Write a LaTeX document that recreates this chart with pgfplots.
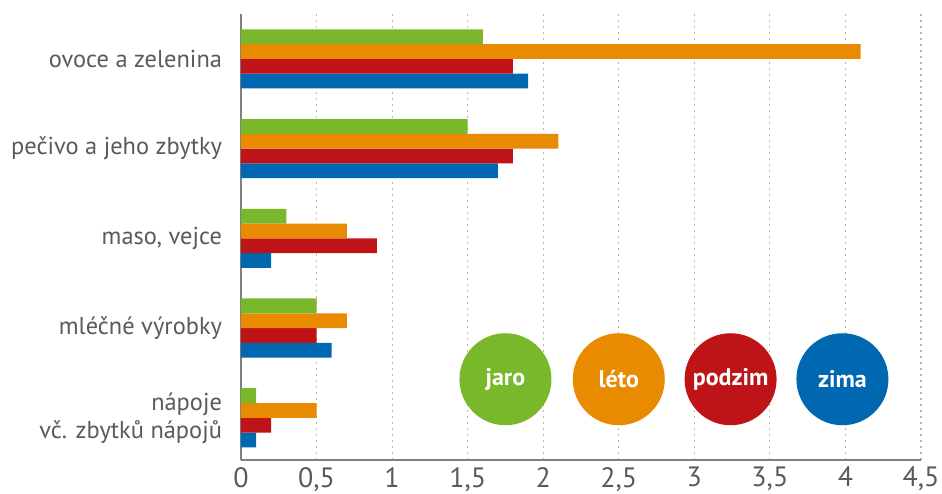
\documentclass[border=0pt]{standalone}
\usepackage{fontspec}
\setmainfont{PT Sans}
\usepackage{pgfplots}
\pgfplotsset{compat=1.18}
\definecolor{cjaro}{HTML}{78B82A}
\definecolor{cleto}{HTML}{E98B00}
\definecolor{cpodzim}{HTML}{BE1418}
\definecolor{czima}{HTML}{0067B1}
\definecolor{txt}{HTML}{5A5A5A}
\definecolor{gridc}{HTML}{B4B4B4}
\begin{document}
\begin{tikzpicture}
\begin{axis}[
  scale only axis, width=340pt, height=223pt,
  xbar=0pt, bar width=7.4pt,
  xmin=0, xmax=4.5,
  ymin=-0.5, ymax=4.47,
  y dir=reverse,
  xtick={0,0.5,...,4.5},
  ytick={0,1,2,3,4},
  yticklabels={ovoce a zelenina, pečivo a jeho zbytky, {maso, vejce}, mléčné výrobky, {nápoje\\vč. zbytků nápojů}},
  yticklabel style={align=right, font=\fontsize{12.2}{14}\selectfont, text=txt},
  xticklabel style={font=\fontsize{14}{15}\selectfont, text=txt},
  /pgf/number format/.cd, use comma, fixed, assume math mode=true,
  /pgfplots/.cd,
  xmajorgrids,
  grid style={gridc, line width=0.6pt, dash pattern=on 1.2pt off 1.8pt},
  axis x line*=bottom, axis y line*=left,
  axis line style={-, gray, line width=0.9pt},
  major tick length=0pt,
  ytick style={draw=none}, xtick style={draw=none},
  yticklabel style={xshift=-6pt},
  xticklabel style={yshift=0pt},
]
\addplot[fill=czima, draw=none] coordinates {(1.9,0) (1.7,1) (0.2,2) (0.6,3) (0.1,4)};
\addplot[fill=cpodzim, draw=none] coordinates {(1.8,0) (1.8,1) (0.9,2) (0.5,3) (0.2,4)};
\addplot[fill=cleto, draw=none] coordinates {(4.1,0) (2.1,1) (0.7,2) (0.7,3) (0.5,4)};
\addplot[fill=cjaro, draw=none] coordinates {(1.6,0) (1.5,1) (0.3,2) (0.5,3) (0.1,4)};
\tikzset{leg/.style={circle, minimum size=46pt, inner sep=0pt, text=white, font=\bfseries\fontsize{12}{14}\selectfont}}
\node[leg, fill=cjaro] at (axis cs:1.75,3.57) {jaro};
\node[leg, fill=cleto] at (axis cs:2.5,3.57) {léto};
\node[leg, fill=cpodzim] at (axis cs:3.24,3.57) {podzim};
\node[leg, fill=czima] at (axis cs:3.98,3.57) {zima};
\end{axis}
\pgfresetboundingbox
\path[use as bounding box] (current axis.south west) ++(-120.5pt,-16.5pt) rectangle ++(471pt,246.5pt);
\end{tikzpicture}
\end{document}
